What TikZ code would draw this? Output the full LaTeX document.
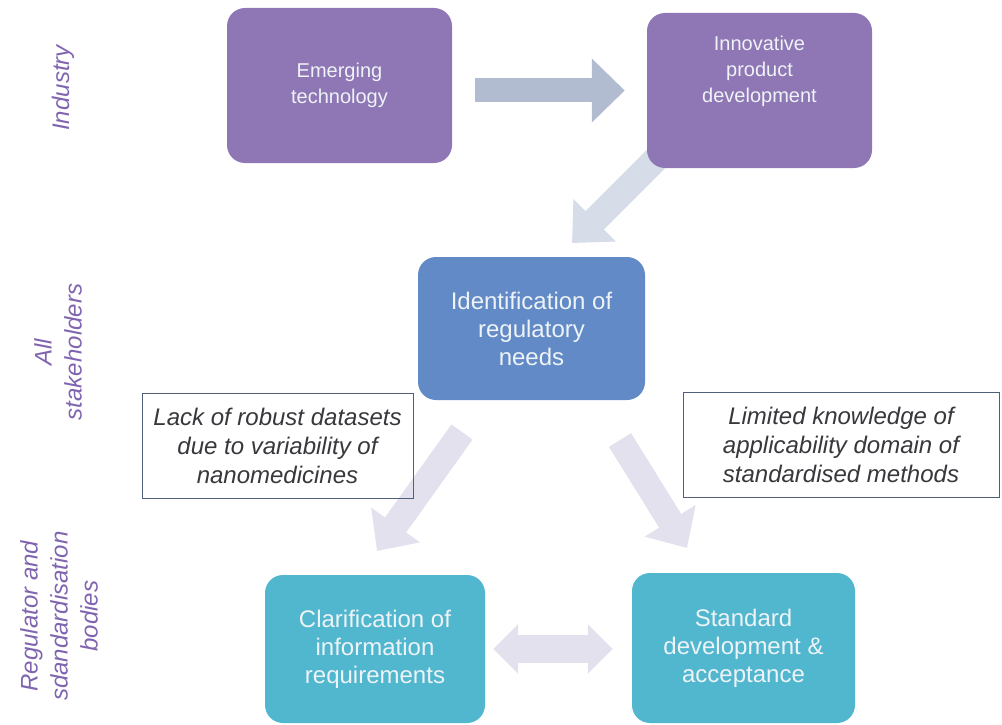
\documentclass[tikz,border=0pt]{standalone}
\usepackage{fontspec}
\setmainfont{Liberation Sans}
\usepackage{tikz}
\usetikzlibrary{arrows.meta,backgrounds}
\usepackage{xcolor}

\definecolor{indpurple}{RGB}{143,118,180}
\definecolor{allblue}{RGB}{98,138,198}
\definecolor{regteal}{RGB}{80,183,207}
\definecolor{boxtext}{RGB}{238,243,247}
\definecolor{sidepurple}{RGB}{128,100,176}
\definecolor{notetext}{RGB}{55,55,60}
\definecolor{noteline}{RGB}{80,95,122}
\definecolor{arrowtop}{RGB}{178,188,209}
\definecolor{arrowmid}{RGB}{214,221,233}
\definecolor{arrowlow}{RGB}{226,225,237}

\begin{document}
\begin{tikzpicture}[x=1pt,y=-1pt]
		\tikzset{mybox/.style={rounded corners=18pt,inner sep=0pt,align=center,text=boxtext},
		topbox/.style={mybox,fill=indpurple,minimum width=225pt,minimum height=155pt,font=\fontsize{20}{26}\selectfont},
		notebox/.style={draw=noteline,line width=0.9pt,inner sep=0pt,align=center,text=notetext,font=\fontsize{24}{29}\selectfont\itshape},
		sidelabel/.style={rotate=90,align=center,text=sidepurple,font=\fontsize{24}{30}\selectfont\itshape},
		blockarrow/.style={line width=#1,-{Triangle[length=32pt,width=58pt]}},
		blockarrow/.default=26pt
	}
    \useasboundingbox (0,0) rectangle (1002,725);

    % the three rows
    \node [topbox] (emerg) at (339.5,85.5) {Emerging\\technology};
    \node [topbox,text depth=42pt] (innov) at (759.5,90.5) {Innovative\\product\\development};
    \node [mybox,fill=allblue,minimum width=227pt,minimum height=143pt,font=\fontsize{24}{28}\selectfont] (ident) at (531.5,328.5) {Identification of\\regulatory\\needs};
    \node [mybox,fill=regteal,minimum width=220pt,minimum height=148pt,font=\fontsize{24}{28}\selectfont] (clar) at (375,649) {Clarification of\\information\\requirements};
    \node [mybox,fill=regteal,minimum width=223pt,minimum height=150pt,font=\fontsize{24}{28}\selectfont] (stand) at (743.5,648) {Standard\\development \&\\acceptance};

    \node [notebox,minimum width=271pt,minimum height=105pt] (lack) at (277.5,445.5) {Lack of robust datasets\\due to variability of\\nanomedicines};
    \node [notebox,minimum width=316pt,minimum height=105pt] (limit) at (841,444.5) {Limited knowledge of\\applicability domain of\\standardised methods};

    \node [sidelabel] (industry) at (63,88) {Industry};
    \node [sidelabel] (allst) at (58,352) {All\\stakeholders};
    \node [sidelabel] (reg) at (59,616) {Regulator and\\sdandardisation\\bodies};

    % free ends of the slanted arrows
    \coordinate (tailA) at (660,155);
    \coordinate (tipA) at (572,243);
    \coordinate (tailB) at (462,432);
    \coordinate (tipB) at (377,551);
    \coordinate (tailC) at (620,440);
    \coordinate (tipC) at (687,548);

    \begin{scope}[on background layer]
    \draw [blockarrow=24pt,arrowtop,-{Triangle[length=33pt,width=62pt]},shorten <=23pt,shorten >=22pt] (emerg.east |- innov.west) -- (innov.west);
    \draw [blockarrow,arrowmid] (tailA) -- (tipA);
    \draw [blockarrow,arrowlow] (tailB) -- (tipB);
    \draw [blockarrow,arrowlow] (tailC) -- (tipC);
    \draw [arrowlow,line width=28pt,{Triangle[length=25pt,width=48pt]}-{Triangle[length=25pt,width=48pt]},shorten <=8pt,shorten >=19pt] (clar.east) -- (clar.east -| stand.west);
    \end{scope}
\end{tikzpicture}
\end{document}
